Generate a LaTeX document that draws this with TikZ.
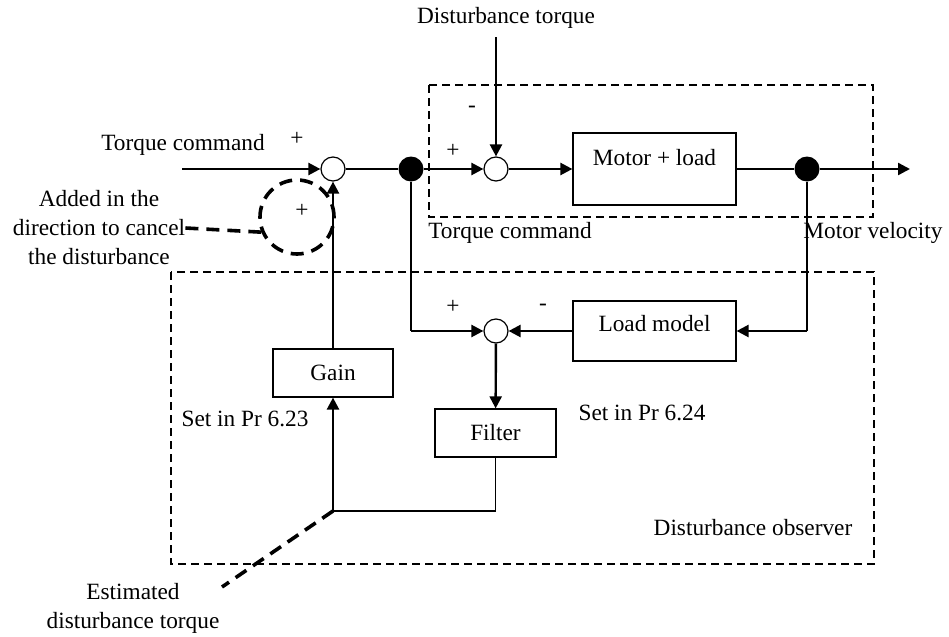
\documentclass[tikz,border=0pt]{standalone}
\usepackage{fontspec}
\setmainfont{Liberation Serif}
\usetikzlibrary{arrows.meta}

\begin{document}
\begin{tikzpicture}[x=0.5pt,y=-0.5pt,>={Triangle[length=6pt,width=6pt]},
  font=\fontsize{11.65}{14.5}\selectfont,
  blk/.style={draw,line width=0.6pt,inner sep=0pt},
  sum/.style={draw,circle,line width=0.6pt,fill=white,minimum size=12pt,inner sep=0pt},
  tap/.style={circle,fill=black,minimum size=12.5pt,inner sep=0pt},
  sig/.style={line width=1.2pt},
  wire/.style={line width=0.6pt},
  frame/.style={line width=1.1pt,dash pattern=on 4pt off 2.5pt},
  note/.style={line width=1.8pt,dash pattern=on 6.5pt off 4pt}]
\useasboundingbox (0,0) rectangle (949,637);
% dashed frames
\draw[frame] (429,85) rectangle (873,217);
\draw[frame] (171,272) rectangle (874,564);
% blocks
\node[sum] (s1) at (333,169) {};
\node[tap] (d1) at (411,169) {};
\node[sum] (s2) at (496,169) {};
\node[blk,minimum width=81.5pt,minimum height=36pt,text depth=12pt] (motor) at (654.5,169) {Motor + load};
\node[tap] (d2) at (807,169) {};
\node[blk,minimum width=81.5pt,minimum height=30pt,text depth=8pt] (load) at (654.5,331) {Load model};
\node[sum] (s3) at (496,331) {};
\node[blk,minimum width=60.5pt,minimum height=24pt] (filter) at (495.5,433) {Filter};
\node[blk,minimum width=60pt,minimum height=24pt] (gain) at (333,373) {Gain};
\node[draw,circle,note,minimum size=37pt,inner sep=0pt] (cmark) at (297,217) {};
% free ends
\coordinate (tin) at (182,169);
\coordinate (dist) at (496,37);
\coordinate (out) at (910,169);
\coordinate (est) at (333,511);
\coordinate (estend) at (222,587);
% texts
\node (lcmd) at (183,145) {Torque command};
\node (ldist) at (506,18) {Disturbance torque};
\node (lcmd2) at (510,233) {Torque command};
\node (lvel) at (873,233) {Motor velocity};
\node (lpr1) at (245,419) {Set in Pr 6.23};
\node (lpr2) at (642,413) {Set in Pr 6.24};
\node (lobs) at (753,528) {Disturbance observer};
\node[align=center,inner sep=0pt] (ladd) at (99,228) {Added in the\\direction to cancel\\the disturbance};
\node[align=center] (lest) at (133,608) {Estimated\\disturbance torque};
\node (p1) at (297,139) {+};
\node (p2) at (302,211) {+};
\node (p3) at (453,151) {+};
\node (m3) at (472,109) {-};
\node (p4) at (453,307) {+};
\node (m4) at (543,307) {-};
% forward path
\draw[sig,->] (tin) -- (s1);
\draw[sig] (s1) -- (d1);
\draw[sig,->] (d1) -- (s2);
\draw[sig,->] (dist) -- (s2);
\draw[sig,->] (s2) -- (motor);
\draw[sig] (motor) -- (d2);
\draw[sig,->] (d2) -- (out);
% observer
\draw[wire] (d1) -- (d1 |- s3);
\draw[sig,->] (d1 |- s3) -- (s3);
\draw[wire] (d2) -- (d2 |- load);
\draw[sig,->] (d2 |- load) -- (load);
\draw[sig,->] (load) -- (s3);
\draw[sig,->] (s3) -- (filter);
\draw[wire] (filter) |- (est);
\draw[sig,->] (est) -- (gain);
\draw[sig,->] (gain) -- (s1);
% callouts
\draw[note] (est) -- (estend);
\draw[note] (ladd.east) -- (cmark.203);
\end{tikzpicture}
\end{document}
